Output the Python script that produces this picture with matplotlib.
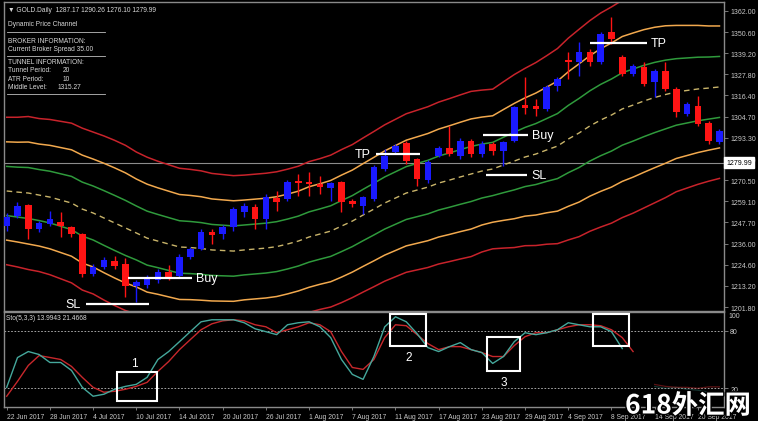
import numpy as np
import matplotlib
matplotlib.use("Agg")
import matplotlib.pyplot as plt
import matplotlib.patheffects as pe
from matplotlib.patches import Rectangle
from matplotlib.transforms import blended_transform_factory

plt.rcParams['font.family'] = ['Liberation Sans', 'DejaVu Sans']

# daily candles, 22 Jun 2017 .. 22 Sep 2017
opens = [1245.6, 1251.1, 1257.0, 1244.0, 1246.7, 1247.8, 1245.1, 1241.3, 1219.7, 1223.5,
         1226.7, 1225.1, 1213.2, 1213.7, 1216.4, 1220.8, 1218.6, 1228.9, 1233.2, 1242.4,
         1241.3, 1245.1, 1253.2, 1255.9, 1249.4, 1260.8, 1260.3, 1270.0, 1269.5, 1268.4,
         1266.2, 1269.5, 1259.2, 1256.5, 1260.3, 1276.5, 1285.7, 1290.6, 1281.9, 1270.5,
         1283.5, 1287.9, 1283.5, 1291.7, 1284.6, 1290.0, 1286.2, 1291.7, 1311.1, 1310.6,
         1309.0, 1321.4, 1335.5, 1334.4, 1339.8, 1334.4, 1350.6, 1337.1, 1327.9, 1331.7,
         1323.6, 1329.5, 1319.8, 1306.3, 1310.6, 1301.4, 1291.1]
highs = [1252.7, 1258.6, 1257.5, 1248.3, 1253.8, 1253.2, 1245.6, 1241.8, 1225.1, 1228.9,
         1229.4, 1228.3, 1216.4, 1219.1, 1222.4, 1224.5, 1230.5, 1234.3, 1244.0, 1244.0,
         1246.2, 1255.9, 1258.1, 1257.5, 1263.0, 1264.6, 1270.5, 1273.8, 1274.9, 1272.7,
         1269.2, 1270.0, 1260.3, 1261.9, 1278.7, 1287.3, 1290.0, 1291.7, 1282.2, 1281.4,
         1288.9, 1299.8, 1293.3, 1292.7, 1291.7, 1291.1, 1291.7, 1310.6, 1326.3, 1314.4,
         1322.0, 1326.3, 1339.8, 1345.2, 1341.4, 1350.6, 1358.8, 1338.2, 1333.3, 1334.4,
         1330.6, 1334.4, 1320.9, 1312.8, 1316.0, 1302.5, 1298.1]
lows = [1242.9, 1250.0, 1238.6, 1242.4, 1245.6, 1239.7, 1239.7, 1218.0, 1218.6, 1222.4,
        1222.4, 1207.2, 1204.5, 1212.1, 1214.8, 1216.4, 1217.5, 1227.8, 1232.7, 1235.9,
        1238.6, 1242.9, 1250.5, 1244.0, 1244.0, 1253.8, 1259.2, 1261.9, 1261.9, 1263.0,
        1259.2, 1253.2, 1255.9, 1252.1, 1259.2, 1275.4, 1284.6, 1279.2, 1267.3, 1268.9,
        1283.0, 1283.5, 1281.9, 1283.0, 1283.0, 1284.1, 1278.1, 1291.1, 1306.3, 1305.2,
        1307.9, 1318.7, 1325.2, 1326.8, 1332.2, 1333.3, 1344.1, 1326.8, 1326.8, 1321.4,
        1315.5, 1318.7, 1304.6, 1305.2, 1299.8, 1290.0, 1290.0]
closes = [1250.5, 1256.5, 1244.0, 1247.3, 1249.4, 1245.6, 1241.3, 1219.7, 1223.5, 1227.2,
          1224.0, 1213.2, 1215.3, 1218.0, 1220.8, 1218.0, 1228.9, 1233.2, 1242.4, 1240.8,
          1245.1, 1254.8, 1256.5, 1249.4, 1261.3, 1258.6, 1269.5, 1268.9, 1268.4, 1266.7,
          1268.9, 1258.6, 1257.5, 1261.3, 1277.6, 1283.5, 1288.9, 1280.8, 1271.1, 1280.3,
          1287.9, 1284.6, 1291.7, 1284.6, 1290.0, 1286.2, 1291.1, 1310.1, 1309.5, 1309.0,
          1320.9, 1325.2, 1334.4, 1339.8, 1334.4, 1349.6, 1346.8, 1327.9, 1332.2, 1322.5,
          1329.5, 1319.8, 1307.3, 1311.7, 1300.9, 1291.7, 1297.1]

# channel middle line and ATR step (price units)
mid = [1264.6, 1264.0, 1263.5, 1262.4, 1261.3, 1259.7, 1258.1, 1254.8, 1252.7, 1250.0,
       1247.3, 1244.6, 1241.9, 1239.1, 1237.5, 1235.9, 1234.3, 1234.0, 1233.5, 1232.7,
       1232.4, 1232.1, 1232.7, 1233.2, 1233.7, 1234.5, 1235.9, 1237.5, 1239.7, 1241.3,
       1242.9, 1245.6, 1248.3, 1251.6, 1254.8, 1258.1, 1260.8, 1263.5, 1265.1, 1266.7,
       1268.9, 1270.5, 1272.2, 1273.8, 1275.4, 1276.5, 1278.7, 1280.8, 1283.0, 1284.6,
       1286.8, 1288.9, 1292.7, 1296.0, 1299.8, 1303.0, 1305.7, 1309.0, 1311.1, 1313.3,
       1315.2, 1316.8, 1318.2, 1319.0, 1319.8, 1320.3, 1320.9]
atr = [13.3, 13.5, 13.8, 13.8, 14.0, 14.2, 14.4, 14.6, 14.6, 14.8,
       14.9, 14.9, 14.6, 14.6, 14.4, 14.3, 14.2, 14.1, 14.0, 13.8,
       13.7, 13.6, 13.5, 13.5, 13.5, 13.5, 13.5, 13.5, 13.6, 13.6,
       13.7, 13.8, 13.8, 13.9, 14.0, 14.1, 14.2, 14.3, 14.4, 14.5,
       14.6, 14.7, 14.8, 14.9, 14.6, 14.4, 15.0, 15.6, 16.0, 16.5,
       17.0, 17.6, 18.2, 18.7, 19.0, 19.3, 19.5, 19.6, 19.5, 19.3,
       19.0, 18.6, 18.0, 17.6, 17.2, 16.8, 16.5]

# stochastic (5,3,3)
sto_main = [21, 52, 58.3, 55.2, 46.9, 46.9, 38.6, 21, 11.7, 13.8,
            19, 22, 24.1, 31.4, 50, 58.3, 68.6, 79, 89.3, 91.4,
            91.4, 91.4, 88.3, 82, 79, 75.9, 86.2, 88.3, 89.3, 84.1,
            72.8, 50, 34.5, 29.3, 53.1, 84, 94.5, 89.3, 76.9, 62.4,
            58.3, 63.4, 67.6, 60.3, 57.2, 45.9, 53.1, 68.6, 77.9, 75.9,
            77.9, 81, 88.3, 86.2, 84.1, 84.1, 79, 61.4]
sto_signal = [11.7, 27.2, 43.8, 54.1, 52.1, 50, 42.8, 31.4, 21, 15.9,
              16.9, 19, 22, 26.2, 37.6, 47.9, 60.3, 70.7, 81, 87.2,
              90.3, 91.4, 90.3, 86.2, 84.1, 77.9, 81, 84.1, 88.3, 86.2,
              79, 58.3, 41.7, 39.7, 50, 72.8, 86.2, 85.2, 75.9, 66.6,
              60.3, 63.4, 63.4, 60.3, 57.2, 53.1, 53.1, 64.5, 73.8, 77.9,
              77.9, 81, 84.1, 86.2, 86.2, 85.2, 81, 72.8, 58.3]
tail_main = [22, 20, 21, 19, 18, 16, 14]
tail_signal = [24, 22, 21, 21, 20, 21.5, 21.5]

date_labels = ['22 Jun 2017', '28 Jun 2017', '4 Jul 2017', '10 Jul 2017', '14 Jul 2017',
               '20 Jul 2017', '26 Jul 2017', '1 Aug 2017', '7 Aug 2017', '11 Aug 2017',
               '17 Aug 2017', '23 Aug 2017', '29 Aug 2017', '4 Sep 2017', '8 Sep 2017',
               '14 Sep 2017', '20 Sep 2017']
price_ticks = [1362.00, 1350.60, 1339.20, 1327.80, 1316.40, 1304.70, 1293.30, 1281.90,
               1270.50, 1259.10, 1247.70, 1236.00, 1224.60, 1213.20, 1201.80]
last_price = 1279.99

# trade marks drawn on the chart
ann_text = ['SL', 'Buy', 'TP', 'Buy', 'SL', 'TP']
ann_start = [7.35, 11.2, 34.2, 44.1, 44.4, 54.0]
ann_end = [13.2, 17.2, 38.3, 48.3, 48.2, 59.3]
ann_price = [1203.5, 1217.5, 1284.6, 1294.9, 1273.2, 1344.7]
ann_side = ['left', 'right', 'left', 'right', 'right', 'right']

sig_boxes = [(10.2, 13.9, 6.8, 37), (35.5, 38.8, 64, 97.4), (44.5, 47.5, 38, 73.4), (54.3, 57.6, 64, 97.4)]
sig_text = [('1', 11.8, 46), ('2', 37.2, 53), ('3', 46.0, 27)]

W, H = 758, 431
fig = plt.figure(figsize=(W / 100, H / 100), dpi=100, facecolor='black')


def place(l, t, r, b):
    return [l / W, 1 - b / H, (r - l) / W, (b - t) / H]


ax = fig.add_axes(place(4, 3, 724, 312), facecolor='black')
ax2 = fig.add_axes(place(4, 313, 724, 408), facecolor='black')

x = np.arange(len(closes))
o = np.array(opens); c = np.array(closes)
mid = np.array(mid); atr = np.array(atr)

for a in (ax, ax2):
    a.set_xlim(-0.25, 66.42)
    for s in a.spines.values():
        s.set_color('#8a8a8a')
        s.set_linewidth(1.0)

ax.set_ylim(1199.66, 1366.87)

# price channel
for k, col in [(3, '#c8232b'), (2, '#f2a94e'), (1, '#2f9a3c')]:
    ax.plot(x, mid + k * atr, color=col, lw=1.1, zorder=1)
    ax.plot(x, mid - k * atr, color=col, lw=1.1, zorder=1)
ax.plot(x, mid, color='#c9b46a', lw=1.0, ls=(0, (4, 3)), zorder=1)

ax.axhline(last_price, color='#8c8c8c', lw=0.8, zorder=0.5)

# candles
cols = np.where(c >= o, '#1a1aff', '#ff1414')
ax.vlines(x, lows, highs, colors=cols, lw=1.0, zorder=2)
ax.bar(x, np.maximum(np.abs(c - o), 0.8), bottom=np.minimum(o, c), width=0.62,
       color=cols, zorder=3)

# trade marks
for t, s, e, p, side in zip(ann_text, ann_start, ann_end, ann_price, ann_side):
    ax.plot([s, e], [p, p], color='white', lw=1.6, zorder=4, solid_capstyle='butt')
    if side == 'left':
        ax.text(s - 0.5, p, t, color='white', fontsize=9, ha='right', va='center')
    else:
        ax.text(e + 0.35, p, t, color='white', fontsize=9, ha='left', va='center')

# price axis
ax.yaxis.tick_right()
ax.set_yticks(price_ticks)
ax.set_yticklabels([f'{v:.2f}' for v in price_ticks])
ax.tick_params(axis='y', colors='#8a8a8a', labelcolor='#c8c8c8', labelsize=5.0,
               length=3, width=0.6, pad=1.5)
ax.set_xticks([])
bt = blended_transform_factory(ax.transAxes, ax.transData)
ax.text(1.003, last_price, f'{last_price:.2f}', transform=bt, fontsize=5.0, color='black',
        ha='left', va='center', zorder=10, clip_on=False,
        bbox=dict(facecolor='white', edgecolor='white', boxstyle='square,pad=0.3'))

# info block
info_c = '#d8d8d8'
fs = 4.8
ax.text(0.006, 0.977, '\u25BC GOLD.Daily  1287.17 1290.26 1276.10 1279.99', transform=ax.transAxes,
        fontsize=fs, color=info_c, va='center')
ax.text(0.006, 0.929, 'Dynamic Price Channel', transform=ax.transAxes, fontsize=fs, color=info_c, va='center')
ax.text(0.006, 0.877, 'BROKER INFORMATION:', transform=ax.transAxes, fontsize=fs, color=info_c, va='center')
ax.text(0.006, 0.851, 'Current Broker Spread 35.00', transform=ax.transAxes, fontsize=fs, color=info_c, va='center')
ax.text(0.006, 0.806, 'TUNNEL INFORMATION:', transform=ax.transAxes, fontsize=fs, color=info_c, va='center')
ax.text(0.006, 0.780, 'Tunnel Period:', transform=ax.transAxes, fontsize=fs, color=info_c, va='center')
ax.text(0.081, 0.780, '20', transform=ax.transAxes, fontsize=fs, color=info_c, va='center')
ax.text(0.006, 0.754, 'ATR Period:', transform=ax.transAxes, fontsize=fs, color=info_c, va='center')
ax.text(0.081, 0.754, '10', transform=ax.transAxes, fontsize=fs, color=info_c, va='center')
ax.text(0.006, 0.728, 'Middle Level:', transform=ax.transAxes, fontsize=fs, color=info_c, va='center')
ax.text(0.074, 0.728, '1315.27', transform=ax.transAxes, fontsize=fs, color=info_c, va='center')
for yy in (0.903, 0.825, 0.702):
    ax.plot([0.004, 0.140], [yy, yy], transform=ax.transAxes, color='#bdbdbd', lw=0.6)

# stochastic panel
ax2.set_ylim(0.5, 99.5)
ax2.axhline(80, color='#bfbfbf', lw=0.6, ls=(0, (2, 2)))
ax2.axhline(20, color='#bfbfbf', lw=0.6, ls=(0, (2, 2)))
ax2.plot(x[:len(sto_main)], sto_main, color='#45a89c', lw=1.0, zorder=3)
ax2.plot(x[:len(sto_signal)], sto_signal, color='#c8282c', lw=1.0, zorder=2)
ax2.plot(x[-len(tail_main):], tail_main, color='#45a89c', lw=0.9, alpha=0.3)
ax2.plot(x[-len(tail_signal):], tail_signal, color='#c8282c', lw=0.9, alpha=0.45)

for x0, x1, v0, v1 in sig_boxes:
    ax2.add_patch(Rectangle((x0, v0), x1 - x0, v1 - v0, fill=False, edgecolor='white', lw=1.5, zorder=5))
for t, bx, bv in sig_text:
    ax2.text(bx, bv, t, color='white', fontsize=8.5, ha='center', va='center')

ax2.text(0.003, 0.975, 'Sto(5,3,3) 13.9943 21.4668', transform=ax2.transAxes, fontsize=fs,
         color=info_c, va='top')
ax2.yaxis.tick_right()
ax2.set_yticks([80, 20])
ax2.set_yticklabels(['80', '20'])
ax2.tick_params(axis='y', colors='#8a8a8a', labelcolor='#c8c8c8', labelsize=5.0,
                length=3, width=0.6, pad=1.5)
bt2 = blended_transform_factory(ax2.transAxes, ax2.transData)
ax2.text(1.006, 99.0, '100', transform=bt2, fontsize=5.0, color='#c8c8c8', va='top', ha='left')

ax2.set_xticks(x[::4][:len(date_labels)])
ax2.set_xticklabels(date_labels)
for lab in ax2.get_xticklabels():
    lab.set_ha('left')
ax2.tick_params(axis='x', colors='#8a8a8a', labelcolor='#c8c8c8', labelsize=4.9,
                length=2.5, width=0.6, pad=1.5)

# site watermark
fig.text(688 / W, 1 - 407 / H, '618外汇网', fontsize=19, fontweight='bold', color='white',
         family=['Noto Sans CJK SC', 'DejaVu Sans'], ha='center', va='center', zorder=20,
         path_effects=[pe.withStroke(linewidth=2, foreground='black')])

fig.add_artist(Rectangle((0, 0), 1, 9 / H, transform=fig.transFigure, facecolor='white',
                         edgecolor='none', zorder=30))

fig.savefig('out.png', dpi=100, facecolor='black')
